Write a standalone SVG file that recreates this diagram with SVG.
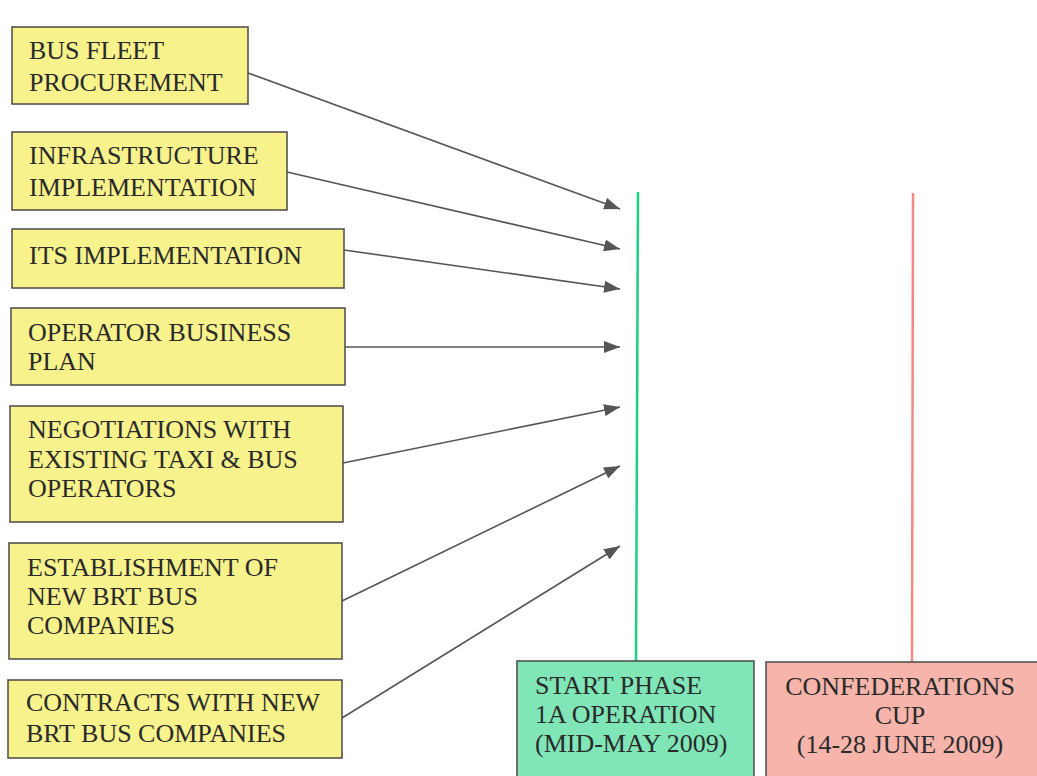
<svg xmlns="http://www.w3.org/2000/svg" width="1037" height="776" viewBox="0 0 1037 776">
<style>
.box{fill:#f7f28c;stroke:#4a4a4a;stroke-width:1.5}
.t{font-family:'Liberation Serif','Tinos','DejaVu Serif',serif;font-size:26px;fill:#2a2a2a}
.c{stroke:#555;stroke-width:1.6;fill:none;marker-end:url(#ah)}
</style>
<defs>
<marker id="ah" viewBox="0 0 16 12" refX="16" refY="6" markerWidth="16" markerHeight="12" markerUnits="userSpaceOnUse" orient="auto">
<path d="M0,0 L16,6 L0,12 z" fill="#555"/>
</marker>
</defs>
<rect width="1037" height="776" fill="#ffffff"/>
<g id="milestone-lines">
<line x1="638" y1="192" x2="636" y2="661" stroke="#1fcf80" stroke-width="2.5"/>
<line x1="913" y1="193" x2="912" y2="662" stroke="#f28a84" stroke-width="2.5"/>
</g>
<g id="connectors">
<line class="c" x1="248" y1="73" x2="620" y2="209"/>
<line class="c" x1="287" y1="172" x2="620" y2="249"/>
<line class="c" x1="344" y1="250" x2="620" y2="289"/>
<line class="c" x1="345" y1="347" x2="620" y2="347"/>
<line class="c" x1="343" y1="463" x2="620" y2="407"/>
<line class="c" x1="342" y1="601" x2="620" y2="466"/>
<line class="c" x1="342" y1="718" x2="620" y2="546"/>
</g>
<g id="n1"><rect class="box" x="12" y="27" width="236" height="77"/><text class="t" x="29" y="59">BUS FLEET</text><text class="t" x="29" y="91">PROCUREMENT</text></g>
<g id="n2"><rect class="box" x="12" y="132" width="275" height="78"/><text class="t" x="29" y="164">INFRASTRUCTURE</text><text class="t" x="29" y="196">IMPLEMENTATION</text></g>
<g id="n3"><rect class="box" x="12" y="229" width="332" height="59"/><text class="t" x="29" y="264">ITS IMPLEMENTATION</text></g>
<g id="n4"><rect class="box" x="11" y="308" width="334" height="77"/><text class="t" x="28" y="341">OPERATOR BUSINESS</text><text class="t" x="28" y="370">PLAN</text></g>
<g id="n5"><rect class="box" x="10" y="406" width="333" height="116"/><text class="t" x="28" y="438">NEGOTIATIONS WITH</text><text class="t" x="28" y="468">EXISTING TAXI &amp; BUS</text><text class="t" x="28" y="497">OPERATORS</text></g>
<g id="n6"><rect class="box" x="9" y="543" width="333" height="116"/><text class="t" x="27" y="576">ESTABLISHMENT OF</text><text class="t" x="27" y="605">NEW BRT BUS</text><text class="t" x="27" y="634">COMPANIES</text></g>
<g id="n7"><rect class="box" x="8" y="680" width="334" height="78"/><text class="t" x="26" y="711">CONTRACTS WITH NEW</text><text class="t" x="26" y="742">BRT BUS COMPANIES</text></g>
<g id="start-phase"><rect x="517" y="661" width="237" height="125" fill="#80e6b8" stroke="#4a4a4a" stroke-width="1.5"/><text class="t" x="535" y="694">START PHASE</text><text class="t" x="535" y="723">1A OPERATION</text><text class="t" x="535" y="752">(MID-MAY 2009)</text></g>
<g id="confed-cup"><rect x="766" y="662" width="290" height="125" fill="#f6b4aa" stroke="#4a4a4a" stroke-width="1.5"/><text class="t" x="900" y="695" text-anchor="middle">CONFEDERATIONS</text><text class="t" x="900" y="724" text-anchor="middle">CUP</text><text class="t" x="900" y="753" text-anchor="middle">(14-28 JUNE 2009)</text></g>
</svg>
